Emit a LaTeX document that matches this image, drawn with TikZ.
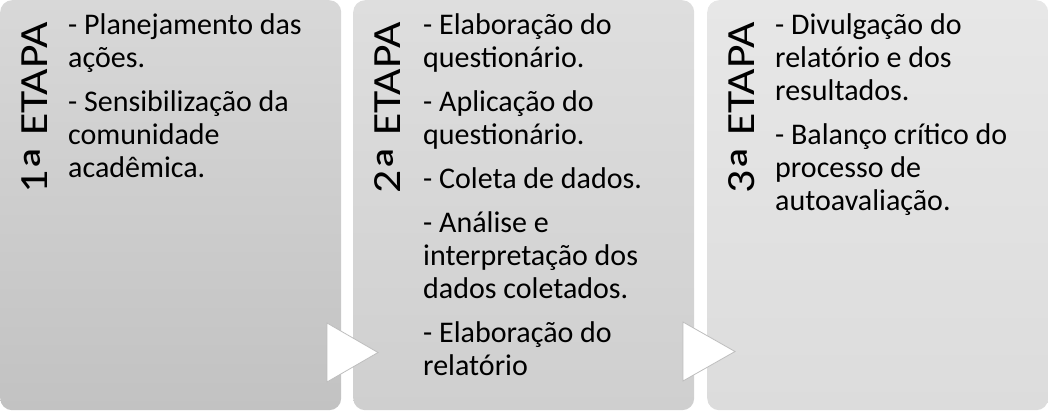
\documentclass[tikz,border=0pt]{standalone}
\usepackage{fontspec}
\setmainfont{Carlito}
\usetikzlibrary{shapes, calc}

\newcommand{\ordinal}{\kern-1pt\raisebox{-15pt}{\scalebox{1.4}{ª}}}

\begin{document}
\begin{tikzpicture}[x=1pt,y=-1pt,
	caixa/.style={rectangle, rounded corners=12pt, minimum width=341pt, minimum height=410pt, inner sep=0pt, anchor=north west},
	titulo/.style={rotate=90, inner sep=0pt, font=\fontsize{40}{44}\selectfont},
	passos/.style={anchor=north west, inner sep=0pt, align=left, font=\fontsize{30}{33}\selectfont},
	seta/.style={fill=white, draw=mycolor3, line width=0.8pt}]
	\definecolor{mycolor}{RGB}{216,216,216}
	\definecolor{mycolor2}{RGB}{194,194,194}
	\definecolor{mycolor3}{RGB}{190,190,190}
	\useasboundingbox (0,0) rectangle (1048,410);
	\node[caixa, top color=mycolor, bottom color=mycolor2] (etapa1) at (0,0) {};
	\node[caixa, top color={rgb,255:red,222;green,222;blue,222}, bottom color={rgb,255:red,207;green,207;blue,207}] (etapa2) at (353,0) {};
	\node[caixa, top color={rgb,255:red,231;green,231;blue,231}, bottom color={rgb,255:red,220;green,220;blue,220}] (etapa3) at (707,0) {};
	\draw[seta] (327,323) -- (327,382) -- (378,352.5) -- cycle;
	\draw[seta] (683,322) -- (683,381) -- (735,351.5) -- cycle;
	\node[titulo] (titulo1) at (42,108) {\scalebox{1.14}[1]{1\ordinal{} ETAPA}};
	\node[titulo] (titulo2) at (395,108) {\scalebox{1.14}[1]{2\ordinal{} ETAPA}};
	\node[titulo] (titulo3) at (749,108) {\scalebox{1.14}[1]{3\ordinal{} ETAPA}};
	\node[passos] (passos1) at (68,13) {- Planejamento das\\ações.\\[11pt]- Sensibilização da\\comunidade\\acadêmica.};
	\node[passos] (passos2) at (423,13) {- Elaboração do\\questionário.\\[11pt]- Aplicação do\\questionário.\\[11pt]- Coleta de dados.\\[11pt]- Análise e\\interpretação dos\\dados coletados.\\[11pt]- Elaboração do\\relatório};
	\node[passos] (passos3) at (775,13) {- Divulgação do\\relatório e dos\\resultados.\\[11pt]- Balanço crítico do\\processo de\\autoavaliação.};
\end{tikzpicture}
\end{document}
